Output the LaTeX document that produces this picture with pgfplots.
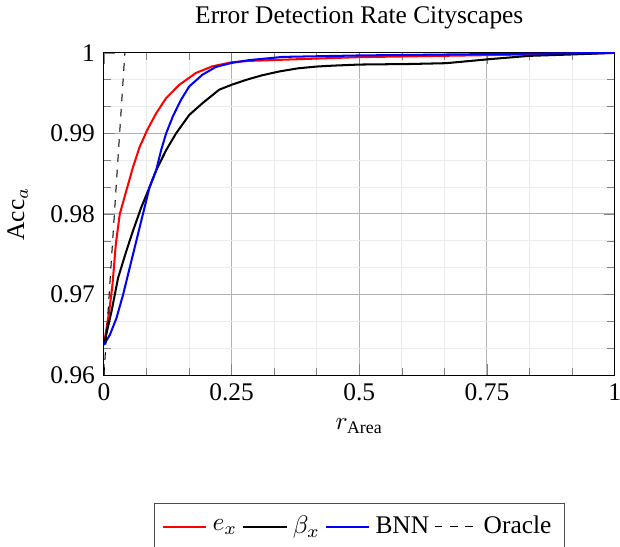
\documentclass[border=0pt]{standalone}
\usepackage[no-math]{fontspec}
\setmainfont{Liberation Serif}
\usepackage{amsmath}
\usepackage{pgfplots}
\pgfplotsset{compat=1.18}
\begin{document}
\begin{tikzpicture}
\begin{axis}[
  scale only axis,
  width=201pt, height=126.8pt,
  xmin=0, xmax=1, ymin=0.96, ymax=1,
  xtick={0,0.25,0.5,0.75,1},
  xticklabels={0,0.25,0.5,0.75,1},
  ytick={0.96,0.97,0.98,0.99,1},
  yticklabels={0.96,0.97,0.98,0.99,1},
  minor tick num=2,
  grid=both,
  major grid style={black!30},
  minor grid style={black!8},
  title={Error Detection Rate Cityscapes},
  xlabel={$r_{\text{Area}}$},
  ylabel={Acc$_a$},
  ylabel style={yshift=2pt},
  legend columns=-1,
  legend style={at={(0.5,-0.397)}, anchor=north, draw=black!70, inner ysep=3pt},
]
\addplot[red, thick] coordinates {
(0,0.96375) (0.0104,0.96792) (0.0168,0.97125) (0.0233,0.97625) (0.0311,0.98000)
(0.044,0.98292) (0.057,0.98583) (0.070,0.98833) (0.0848,0.99042) (0.1023,0.99250)
(0.1218,0.99438) (0.1477,0.99604) (0.180,0.99750) (0.2124,0.99833) (0.25,0.99883)
(0.2837,0.99900) (0.35,0.99915) (0.5,0.99947) (0.742,0.99971) (0.9,0.99988) (1,1)
};
\addlegendentry{$e_x$}
\addplot[black, thick] coordinates {
(0,0.96375) (0.0149,0.96792) (0.0278,0.97208) (0.044,0.97542) (0.057,0.97792)
(0.0732,0.98083) (0.0894,0.98333) (0.1023,0.98542) (0.1218,0.98792) (0.1412,0.99000)
(0.167,0.99229) (0.193,0.99375) (0.2254,0.99542) (0.25,0.99604) (0.2837,0.99675)
(0.31,0.99722) (0.344,0.99770) (0.38,0.99808) (0.416,0.99830) (0.45,0.99842)
(0.5,0.99855) (0.6,0.99862) (0.67,0.99872) (0.755,0.99922) (0.833,0.99963)
(0.91,0.99979) (1,1)
};
\addlegendentry{$\beta_x$}
\addplot[blue, thick] coordinates {
(0,0.96375) (0.0117,0.96500) (0.0246,0.96708) (0.0376,0.97000) (0.0505,0.97333)
(0.0635,0.97667) (0.0764,0.98000) (0.0894,0.98333) (0.1023,0.98542) (0.112,0.98792)
(0.1218,0.99000) (0.1347,0.99208) (0.1509,0.99417) (0.167,0.99583) (0.193,0.99729)
(0.219,0.99825) (0.25,0.99875) (0.2837,0.99910) (0.35,0.99950) (0.5,0.99968)
(0.75,0.99985) (1,1)
};
\addlegendentry{BNN}
\addplot[black, thin, dashed] coordinates {(0,0.96) (0.041,1)};
\addlegendentry{Oracle}
\end{axis}
\pgfresetboundingbox
\path[use as bounding box] (current axis.south west) ++(-40.9pt,-67.3pt) rectangle ++(244pt,214.9pt);
\end{tikzpicture}
\end{document}
